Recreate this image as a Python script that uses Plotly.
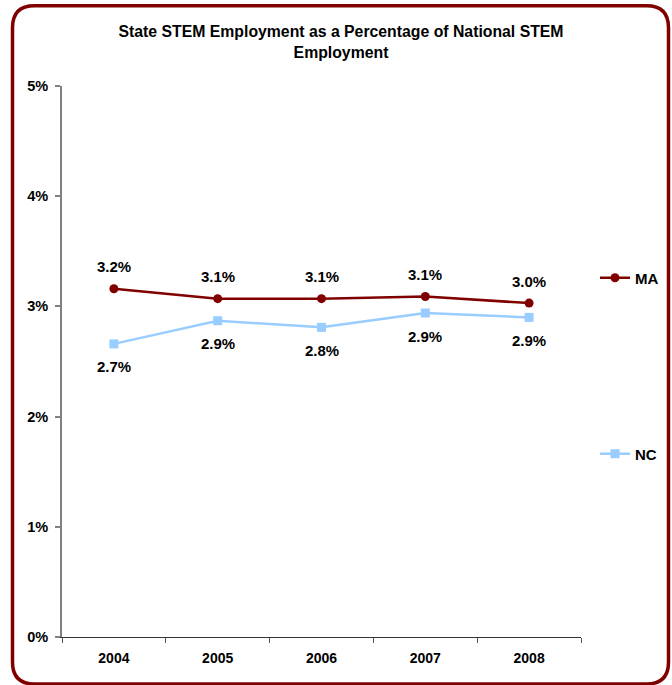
import plotly.graph_objects as go

years = ["2004", "2005", "2006", "2007", "2008"]
ma_values = [3.16, 3.07, 3.07, 3.09, 3.03]
nc_values = [2.66, 2.87, 2.81, 2.94, 2.90]
y_ticks = [0, 1, 2, 3, 4, 5]
y_tick_labels = ["0%", "1%", "2%", "3%", "4%", "5%"]

W, H = 672, 685
ML, MR, MT, MB = 62, 91, 86, 48
PW, PH = W - ML - MR, H - MT - MB
FONT = "Liberation Sans, Arial, sans-serif"
MA_COLOR = "#800000"
NC_COLOR = "#99CCFF"


def px(x):
    return (x - ML) / PW


def py(y):
    return (H - MB - y) / PH


fig = go.Figure()
fig.add_trace(go.Scatter(
    x=years, y=ma_values, name="MA", mode="lines+markers",
    line=dict(color=MA_COLOR, width=2.5),
    marker=dict(symbol="circle", size=9, color=MA_COLOR),
))
fig.add_trace(go.Scatter(
    x=years, y=nc_values, name="NC", mode="lines+markers",
    line=dict(color=NC_COLOR, width=2.5),
    marker=dict(symbol="square", size=9, color=NC_COLOR),
    legend="legend2",
))

annotations = []
for i, v in enumerate(ma_values):
    annotations.append(dict(x=i, y=v, xref="x", yref="y", text=f"<b>{v:.1f}%</b>",
                            showarrow=False, yshift=22,
                            font=dict(family=FONT, size=15, color="black")))
for i, v in enumerate(nc_values):
    annotations.append(dict(x=i, y=v, xref="x", yref="y", text=f"<b>{v:.1f}%</b>",
                            showarrow=False, yshift=-23,
                            font=dict(family=FONT, size=15, color="black")))

# rounded border
L, R, T, B, r = 12.5, 668.5, 5.7, 684, 22
path = (f"M {px(L + r)},{py(T)} L {px(R - r)},{py(T)} Q {px(R)},{py(T)} {px(R)},{py(T + r)} "
        f"L {px(R)},{py(B - r)} Q {px(R)},{py(B)} {px(R - r)},{py(B)} "
        f"L {px(L + r)},{py(B)} Q {px(L)},{py(B)} {px(L)},{py(B - r)} "
        f"L {px(L)},{py(T + r)} Q {px(L)},{py(T)} {px(L + r)},{py(T)} Z")

fig.update_layout(
    width=W, height=H,
    margin=dict(l=ML, r=MR, t=MT, b=MB, autoexpand=False),
    paper_bgcolor="white", plot_bgcolor="white",
    font=dict(family=FONT, color="black"),
    title=dict(text="<b>State STEM Employment as a Percentage of National STEM<br>Employment</b>",
               x=341 / W, xanchor="center", xref="container",
               y=(H - 37) / H, yanchor="top", yref="container",
               font=dict(family=FONT, size=15.8, color="black")),
    xaxis=dict(type="category", range=[-0.5, 4.5], showgrid=False, zeroline=False,
               showline=True, linecolor="#333333", linewidth=1.3,
               ticks="outside", ticklen=5, tickcolor="#555555", tickwidth=1.3,
               tickson="boundaries", ticklabelstandoff=8, automargin=False,
               tickfont=dict(family=FONT, size=14, color="black", weight="bold")),
    yaxis=dict(range=[0, 5], tickvals=y_ticks, ticktext=y_tick_labels,
               showgrid=False, zeroline=False,
               showline=True, linecolor="#808080", linewidth=1.8,
               ticks="outside", ticklen=5, tickcolor="#808080", tickwidth=1.5,
               ticklabelstandoff=4, automargin=False,
               tickfont=dict(family=FONT, size=14.5, color="black", weight="bold")),
    showlegend=True,
    legend=dict(x=px(595), xanchor="left", y=py(278), yanchor="middle",
                bgcolor="rgba(0,0,0,0)", font=dict(family=FONT, size=15, color="black", weight="bold")),
    legend2=dict(x=px(595), xanchor="left", y=py(454), yanchor="middle",
                 bgcolor="rgba(0,0,0,0)", font=dict(family=FONT, size=15, color="black", weight="bold")),
    annotations=annotations,
    shapes=[dict(type="path", xref="paper", yref="paper", path=path,
                 line=dict(color=MA_COLOR, width=3.5), fillcolor="rgba(0,0,0,0)", layer="above")],
)

fig.write_html("out.html")
